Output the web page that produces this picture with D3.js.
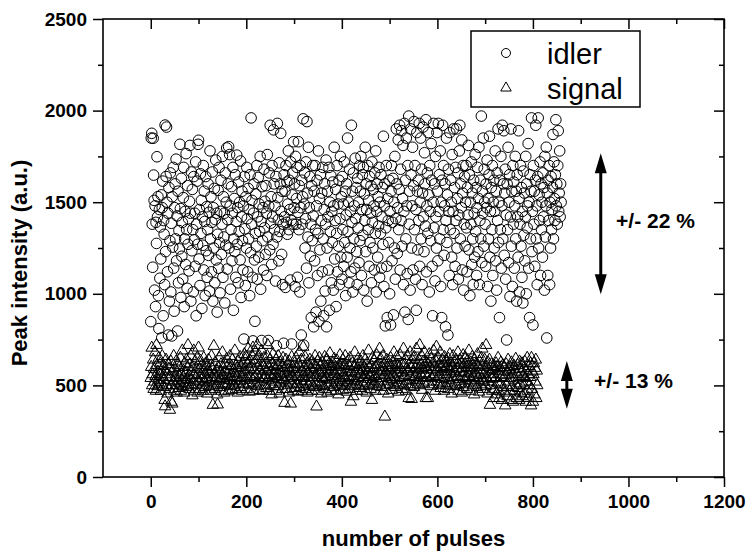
<!DOCTYPE html>
<html>
<head>
<meta charset="utf-8">
<script src="https://cdn.jsdelivr.net/npm/d3@7"></script>
<style>
  body { margin: 0; background: #fff; }
  svg text { font-family: Arial, "Liberation Sans", sans-serif; fill: #000; }
  .axis text { font-size: 19px; font-weight: bold; }
  .axis line { stroke: #000; stroke-width: 1.5; }
  .axis path { display: none; }
  .title { font-size: 22px; font-weight: bold; }
  .note { font-size: 21px; font-weight: bold; }
  .legend-text { font-size: 29px; }
</style>
</head>
<body>
<div id="chart"></div>
<script>
// tick labels
const xTicks = [0, 200, 400, 600, 800, 1000, 1200];
const xMinorTicks = [100, 300, 500, 700, 900, 1100];
const yTicks = [0, 500, 1000, 1500, 2000, 2500];
const yMinorTicks = [250, 750, 1250, 1750, 2250];

const seriesNames = ['idler', 'signal'];

// peak intensity of every pulse (pulse number = index)
const idler = [
  848, 1850, 1876, 1380, 1145, 1849, 1648, 1510, 1020, 1480, 930, 1390, 1275, 1748, 1420, 1530, 990, 810, 1460, 1085,
  1365, 1190, 1540, 760, 1470, 1615, 880, 1400, 1325, 1050, 1921, 1230, 1640, 1910, 1500, 1120, 1440, 775, 1580, 960,
  1290, 1660, 1010, 1385, 770, 1530, 1255, 1690, 1140, 905, 1470, 1600, 1300, 1735, 1180, 1425, 797, 1560, 1060, 1345,
  1245, 1816, 1465, 980, 1630, 1205, 1390, 1080, 1525, 1690, 930, 1300, 1450, 1160, 1765, 1350, 1030, 1590, 1270, 1410,
  1125, 1505, 1810, 1440, 960, 1665, 1235, 1570, 1350, 1010, 1640, 1295, 1440, 1150, 1720, 880, 1380, 1615, 1270, 1816,
  1838, 1190, 1460, 1045, 1655, 1330, 1510, 920, 1420, 1265, 1700, 1130, 1560, 1395, 990, 1640, 1235, 1475, 1090, 1350,
  1600, 1210, 1445, 1015, 1780, 1300, 1530, 1120, 1390, 1665, 960, 1470, 1250, 1575, 1060, 1405, 1730, 1185, 1440, 900,
  1325, 1565, 1140, 1690, 1280, 1005, 1450, 1620, 1215, 1380, 1750, 1090, 1530, 1310, 1440, 950, 1660, 1265, 1500, 1796,
  1135, 1405, 1600, 1803, 1250, 1760, 1480, 1025, 1350, 1585, 1180, 1440, 1690, 910, 1300, 1520, 1230, 1650, 1090, 1395,
  1757, 1270, 1470, 1060, 1610, 1340, 1500, 1185, 1725, 980, 1420, 1560, 1290, 1130, 1480, 753, 1640, 1355, 1045, 1530,
  1250, 1690, 1410, 1120, 1575, 1300, 1460, 990, 1650, 1225, 1960, 1380, 1510, 1090, 743, 1440, 1600, 1185, 850, 1330,
  1545, 1260, 1700, 1080, 1420, 1635, 1200, 1490, 1340, 1750, 1025, 1395, 745, 1585, 1290, 1470, 1130, 1680, 1360, 1505,
  1215, 1590, 1440, 1100, 1760, 1310, 745, 1480, 1660, 1240, 1920, 1385, 1530, 1160, 1700, 1420, 1270, 1895, 1600, 1350,
  1480, 1070, 1640, 716, 1310, 1930, 1525, 1405, 1180, 1715, 1340, 1600, 1876, 1450, 1215, 1560, 1050, 1380, 730, 1650,
  1420, 1560, 1035, 1700, 1390, 1610, 1325, 1490, 1780, 1350, 1620, 1460, 1075, 1720, 1400, 726, 1540, 1660, 1380, 1830,
  1470, 1600, 1040, 1750, 1380, 1520, 1690, 1090, 1445, 1830, 1350, 1590, 1010, 1700, 1470, 775, 1620, 1380, 1530, 1955,
  720, 1490, 1660, 1250, 1410, 1720, 1140, 1940, 1550, 1310, 1800, 1060, 1470, 1640, 1205, 1380, 870, 1590, 1290, 1700,
  1425, 820, 1560, 1180, 1700, 1350, 900, 1480, 1620, 1100, 1330, 1780, 850, 1520, 1240, 1650, 960, 1400, 1550, 1120,
  1690, 1300, 880, 1460, 1600, 1015, 1380, 1730, 820, 1250, 1560, 1420, 1130, 1690, 910, 1500, 1340, 1645, 1060, 1450,
  1280, 1610, 1020, 1480, 1800, 1190, 1400, 1570, 930, 1330, 1700, 1120, 1490, 1260, 1620, 1050, 1410, 1750, 1200, 1530,
  1080, 1640, 1350, 1490, 1150, 1720, 1280, 1560, 990, 1430, 1600, 1200, 1850, 1340, 1500, 1060, 1680, 1250, 1450, 1120,
  1920, 1390, 1560, 1010, 1660, 1300, 1480, 1140, 1740, 1410, 1580, 1230, 1050, 1630, 1360, 1500, 1170, 1700, 1290, 1560,
  1750, 1100, 1460, 1650, 1320, 1690, 1020, 1545, 1400, 1800, 1230, 1600, 1460, 960, 1700, 1350, 1510, 1150, 1640, 1280,
  1440, 1590, 1060, 1720, 1390, 1250, 1570, 1480, 1130, 1660, 1330, 1780, 1010, 1450, 1600, 1200, 1530, 1370, 1690, 1090,
  1500, 1330, 1650, 1140, 1420, 1580, 1270, 1860, 1040, 1480, 1600, 825, 1360, 1700, 1150, 870, 1520, 1400, 1280, 1620,
  1000, 1450, 830, 1560, 1700, 1180, 1390, 1630, 885, 1500, 1250, 1750, 1080, 1410, 1900, 1600, 1220, 1470, 1840, 1350,
  1570, 1920, 1130, 1680, 1400, 1890, 1260, 1520, 1810, 1050, 1450, 1930, 900, 1620, 1300, 1850, 1480, 1110, 1700, 860,
  1970, 1380, 1560, 1020, 1900, 1650, 1250, 1480, 1800, 1130, 1590, 1940, 1350, 1700, 1080, 1460, 910, 1880, 1560, 1240,
  1620, 1400, 1930, 1150, 1500, 1850, 1300, 1680, 1050, 1550, 1910, 1420, 1230, 1770, 1600, 1370, 1950, 1120, 1480, 1660,
  1330, 1880, 1540, 1010, 1700, 1450, 1290, 1820, 1620, 1150, 880, 1500, 1930, 1360, 1600, 1070, 1750, 1420, 1250, 1880,
  1560, 1180, 1930, 1450, 1650, 1300, 1780, 1040, 1500, 870, 1620, 1920, 1350, 1700, 1210, 1480, 1600, 820, 1400, 1850,
  1280, 1540, 775, 1680, 1450, 1100, 1880, 1350, 1620, 1500, 1200, 1760, 1050, 1450, 1900, 1330, 1580, 1150, 1690, 1400,
  1900, 1250, 1520, 1660, 1080, 1430, 1780, 1920, 1300, 1600, 1470, 1840, 1130, 1550, 1700, 1020, 1380, 1640, 1260, 1500,
  1700, 1360, 1120, 1580, 1430, 1810, 1240, 1650, 990, 1500, 1380, 1720, 1160, 1550, 1300, 1050, 1620, 1440, 1200, 1760,
  1340, 1580, 1100, 1470, 1690, 1230, 1520, 1800, 1050, 1400, 1620, 1300, 1970, 1170, 1560, 1440, 1850, 1260, 1680, 1500,
  1380, 1150, 1600, 1470, 1730, 1040, 1520, 1300, 1650, 1860, 1200, 1450, 960, 1580, 1350, 1700, 1100, 1500, 1620, 1250,
  1450, 1780, 1180, 1560, 1020, 1660, 1400, 1900, 1280, 1500, 870, 1620, 1350, 1750, 1140, 1480, 1920, 1300, 1600, 1890,
  1210, 1550, 1680, 1080, 1430, 748, 1600, 1350, 1800, 1170, 1500, 1650, 985, 1420, 1900, 1260, 1560, 1040, 1700, 1380,
  1610, 1140, 1480, 1750, 1300, 1560, 960, 1650, 1420, 1200, 1890, 1520, 1010, 1380, 1700, 1260, 1580, 1090, 1450, 950,
  1670, 1320, 1550, 1180, 1420, 1750, 1000, 1600, 1360, 1480, 1820, 1140, 1500, 870, 1650, 1300, 1560, 1960, 1230, 1450,
  830, 1700, 1380, 1560, 1150, 1620, 1920, 1300, 1480, 1050, 1640, 1960, 1250, 1540, 1400, 1720, 1100, 1600, 1350, 1500,
  1200, 1660, 1420, 1580, 1020, 1750, 1310, 1480, 1800, 759, 1550, 1100, 1620, 1400, 1700, 1050, 1500, 1250, 1640, 1350,
  1460, 1580, 1870, 1300, 1720, 1520, 1400, 1650, 1950, 1480, 1600, 1380, 1700, 1890, 1450, 1550, 1780, 1420, 1600, 1500
];

const signal = [
  540, 600, 705, 500, 560, 640, 480, 590, 520, 680, 550, 470, 720, 610, 495, 575, 530, 650, 505, 560,
  620, 470, 580, 515, 660, 545, 490, 605, 530, 420, 385, 575, 640, 500, 560, 455, 615, 530, 590, 480,
  366, 545, 630, 410, 500, 400, 580, 520, 660, 470, 595, 540, 500, 630, 460, 570, 525, 610, 485, 555,
  600, 510, 650, 470, 560, 530, 690, 495, 580, 545, 460, 620, 515, 570, 490, 640, 535, 600, 720, 505,
  555, 480, 615, 530, 660, 500, 575, 445, 600, 520, 690, 555, 470, 630, 540, 505, 590, 650, 460, 560,
  706, 525, 590, 480, 635, 555, 500, 610, 540, 470, 580, 650, 515, 560, 490, 620, 535, 600, 455, 575,
  530, 640, 495, 570, 520, 605, 470, 660, 545, 590, 393, 510, 715, 560, 480, 625, 540, 500, 580, 450,
  395, 600, 525, 650, 490, 570, 535, 615, 470, 555, 680, 505, 590, 540, 460, 620, 510, 575, 530, 645,
  500, 560, 610, 470, 585, 530, 660, 495, 550, 605, 475, 640, 520, 580, 545, 500, 690, 565, 480, 610,
  540, 595, 460, 630, 510, 570, 525, 655, 490, 600, 545, 470, 620, 560, 505, 585, 670, 530, 640, 657,
  575, 480, 615, 540, 700, 510, 590, 465, 635, 550, 600, 500, 660, 530, 706, 470, 585, 620, 545, 680,
  510, 640, 560, 720, 495, 600, 540, 660, 475, 580, 625, 520, 690, 555, 470, 610, 535, 650, 500, 590,
  545, 620, 485, 575, 660, 720, 530, 600, 470, 555, 640, 505, 580, 450, 615, 540, 670, 495, 560, 605,
  520, 585, 640, 470, 550, 610, 495, 660, 535, 580, 455, 625, 510, 570, 545, 600, 480, 650, 530, 565,
  404, 595, 520, 640, 480, 560, 615, 500, 585, 460, 630, 540, 575, 400, 510, 655, 550, 600, 470, 590,
  530, 620, 485, 570, 650, 505, 590, 545, 465, 615, 560, 680, 490, 600, 525, 640, 470, 575, 550, 710,
  505, 600, 540, 655, 480, 580, 525, 620, 460, 570, 610, 495, 560, 640, 515, 590, 545, 470, 630, 500,
  575, 615, 490, 545, 660, 510, 600, 384, 555, 630, 470, 585, 520, 650, 500, 565, 610, 455, 580, 540,
  625, 495, 570, 535, 655, 480, 600, 545, 510, 640, 460, 590, 560, 615, 500, 675, 530, 580, 470, 605,
  550, 620, 490, 575, 645, 515, 560, 600, 470, 540, 635, 505, 585, 450, 610, 530, 665, 495, 570, 615,
  520, 580, 640, 475, 555, 610, 500, 660, 540, 590, 465, 625, 515, 570, 545, 605, 480, 650, 530, 410,
  575, 495, 620, 550, 440, 600, 525, 680, 505, 565, 610, 470, 590, 540, 645, 500, 575, 615, 485, 560,
  630, 520, 580, 470, 660, 545, 600, 495, 555, 640, 510, 585, 460, 620, 535, 570, 690, 500, 595, 545,
  480, 610, 560, 420, 650, 525, 590, 505, 635, 550, 470, 600, 540, 665, 495, 580, 615, 520, 560, 700,
  510, 645, 575, 490, 600, 540, 660, 470, 585, 555, 329, 620, 500, 570, 640, 525, 595, 455, 610, 545,
  580, 505, 650, 535, 600, 475, 625, 560, 515, 680, 545, 590, 490, 615, 530, 655, 500, 570, 610, 465,
  600, 540, 665, 510, 585, 620, 480, 570, 545, 700, 500, 610, 555, 640, 470, 590, 525, 660, 505, 580,
  430, 615, 550, 680, 495, 600, 425, 640, 530, 575, 610, 490, 655, 545, 590, 520, 700, 560, 615, 505,
  585, 640, 530, 720, 500, 610, 555, 660, 475, 595, 540, 630, 510, 680, 565, 600, 430, 625, 545, 590,
  430, 615, 520, 670, 560, 600, 495, 645, 540, 585, 620, 505, 690, 550, 600, 470, 635, 575, 711, 520,
  590, 545, 650, 500, 615, 560, 680, 485, 600, 535, 640, 510, 575, 620, 470, 655, 540, 595, 500, 630,
  560, 605, 480, 645, 530, 590, 670, 510, 575, 620, 455, 600, 545, 660, 495, 580, 625, 520, 565, 640,
  500, 590, 550, 680, 470, 610, 535, 640, 505, 575, 620, 460, 595, 545, 665, 490, 570, 615, 525, 650,
  540, 600, 480, 635, 565, 510, 690, 550, 595, 470, 625, 530, 585, 655, 500, 610, 545, 450, 640, 575,
  520, 615, 560, 490, 670, 540, 600, 465, 630, 555, 585, 505, 650, 530, 700, 480, 610, 560, 520, 640,
  570, 495, 720, 540, 600, 455, 625, 520, 580, 640, 393, 560, 500, 615, 535, 470, 590, 545, 430, 605,
  480, 580, 540, 620, 450, 600, 515, 650, 470, 560, 430, 595, 505, 625, 545, 420, 575, 610, 490, 540,
  600, 460, 390, 555, 615, 500, 575, 440, 640, 520, 585, 470, 600, 540, 420, 625, 490, 560, 410, 590,
  530, 605, 470, 575, 645, 500, 430, 560, 610, 485, 545, 420, 630, 510, 590, 460, 570, 620, 440, 550,
  500, 595, 455, 630, 540, 410, 580, 520, 650, 470, 560, 430, 605, 500, 545, 620, 390, 650, 480, 575,
  410, 560, 620, 450, 595, 520, 640, 430, 580, 500
];

// spread annotations: pulse position of the arrow, intensity range, label
const spreadNotes = [
  { pulse: 942, low: 997, high: 1767, label: '+/- 22 %', labelPulse: 974, labelValue: 1359 },
  { pulse: 871, low: 373, high: 633, label: '+/- 13 %', labelPulse: 928, labelValue: 487 }
];

class ScatterChart {
    constructor(_config) {
        this.config = {
            parentElement: _config.parentElement,
            containerWidth: 748,
            containerHeight: 551,
            margin: { top: 19, right: 24, bottom: 74, left: 103 }
        }
        this.initVis();
    }

    initVis() {
        let vis = this;

        vis.width = vis.config.containerWidth - vis.config.margin.left - vis.config.margin.right;
        vis.height = vis.config.containerHeight - vis.config.margin.top - vis.config.margin.bottom;

        vis.xScale = d3.scaleLinear()
            .domain([-100, 1200])
            .range([0, vis.width]);

        vis.yScale = d3.scaleLinear()
            .domain([0, 2500])
            .range([vis.height, 0]);

        vis.svg = d3.select(vis.config.parentElement).append('svg')
            .attr('width', vis.config.containerWidth)
            .attr('height', vis.config.containerHeight);

        vis.chartArea = vis.svg.append('g')
            .attr('transform', `translate(${vis.config.margin.left},${vis.config.margin.top})`);

        vis.chart = vis.chartArea.append('g');

        vis.renderAxes();
        vis.renderVis();
        vis.renderLegend();
    }

    renderAxes() {
        let vis = this;
        const fmt = d3.format('d');

        // left + bottom: ticks outward with labels
        vis.chartArea.append('g')
            .attr('class', 'axis')
            .attr('transform', `translate(0,${vis.height})`)
            .call(d3.axisBottom(vis.xScale).tickValues(xTicks).tickFormat(fmt).tickSize(10).tickPadding(8));
        vis.chartArea.append('g')
            .attr('class', 'axis')
            .attr('transform', `translate(0,${vis.height})`)
            .call(d3.axisBottom(vis.xScale).tickValues(xMinorTicks).tickSize(5).tickFormat(''));

        vis.chartArea.append('g')
            .attr('class', 'axis')
            .call(d3.axisLeft(vis.yScale).tickValues(yTicks).tickFormat(fmt).tickSize(10).tickPadding(6));
        vis.chartArea.append('g')
            .attr('class', 'axis')
            .call(d3.axisLeft(vis.yScale).tickValues(yMinorTicks).tickSize(5).tickFormat(''));

        // top + right: mirrored ticks pointing in
        vis.chartArea.append('g')
            .attr('class', 'axis')
            .call(d3.axisTop(vis.xScale).tickValues(xTicks).tickSize(-10).tickFormat(''));
        vis.chartArea.append('g')
            .attr('class', 'axis')
            .call(d3.axisTop(vis.xScale).tickValues(xMinorTicks).tickSize(-5).tickFormat(''));
        vis.chartArea.append('g')
            .attr('class', 'axis')
            .attr('transform', `translate(${vis.width},0)`)
            .call(d3.axisRight(vis.yScale).tickValues(yTicks).tickSize(-10).tickFormat(''));
        vis.chartArea.append('g')
            .attr('class', 'axis')
            .attr('transform', `translate(${vis.width},0)`)
            .call(d3.axisRight(vis.yScale).tickValues(yMinorTicks).tickSize(-5).tickFormat(''));

        vis.chartArea.selectAll('.axis text')
            .attr('font-weight', 'bold')
            .attr('fill', '#000');

        // frame
        vis.chartArea.append('rect')
            .attr('width', vis.width)
            .attr('height', vis.height)
            .attr('fill', 'none')
            .attr('stroke', '#000')
            .attr('stroke-width', 1.6);

        // axis titles
        vis.chartArea.append('text')
            .attr('class', 'title')
            .attr('x', vis.width / 2)
            .attr('y', vis.height + 69)
            .attr('text-anchor', 'middle')
            .text('number of pulses');

        vis.chartArea.append('text')
            .attr('class', 'title')
            .attr('transform', `translate(-76,${vis.height / 2 + 15}) rotate(-90)`)
            .attr('text-anchor', 'middle')
            .text('Peak intensity (a.u.)');
    }

    renderVis() {
        let vis = this;

        vis.triangle = d3.symbol().type(d3.symbolTriangle).size(58);

        vis.chart.selectAll('.idler')
            .data(idler)
            .join('circle')
            .attr('class', 'idler')
            .attr('cx', (d, i) => vis.xScale(i))
            .attr('cy', d => vis.yScale(d))
            .attr('r', 5.3)
            .attr('fill', 'none')
            .attr('stroke', '#000')
            .attr('stroke-width', 1);

        vis.chart.selectAll('.signal')
            .data(signal)
            .join('path')
            .attr('class', 'signal')
            .attr('d', vis.triangle)
            .attr('transform', (d, i) => `translate(${vis.xScale(i)},${vis.yScale(d)})`)
            .attr('fill', 'none')
            .attr('stroke', '#000')
            .attr('stroke-width', 1);

        // double arrows marking the spread
        const headLen = 20, headHalf = 6;
        spreadNotes.forEach(n => {
            const x = vis.xScale(n.pulse);
            const yTop = vis.yScale(n.high);
            const yBot = vis.yScale(n.low);
            vis.chart.append('line')
                .attr('x1', x).attr('x2', x)
                .attr('y1', yTop + headLen - 2).attr('y2', yBot - headLen + 2)
                .attr('stroke', '#000')
                .attr('stroke-width', 3);
            vis.chart.append('path')
                .attr('d', `M${x},${yTop}L${x - headHalf},${yTop + headLen}L${x + headHalf},${yTop + headLen}Z`
                    + `M${x},${yBot}L${x - headHalf},${yBot - headLen}L${x + headHalf},${yBot - headLen}Z`)
                .attr('fill', '#000');
            vis.chart.append('text')
                .attr('class', 'note')
                .attr('x', vis.xScale(n.labelPulse))
                .attr('y', vis.yScale(n.labelValue))
                .text(n.label);
        });
    }

    renderLegend() {
        let vis = this;

        let legend = vis.chartArea.append('g')
            .attr('transform', 'translate(368,12)');

        legend.append('rect')
            .attr('width', 169)
            .attr('height', 76)
            .attr('fill', '#fff')
            .attr('stroke', '#000')
            .attr('stroke-width', 1.5);

        let items = legend.selectAll('.legend-item')
            .data(seriesNames)
            .join('g')
            .attr('class', 'legend-item')
            .attr('transform', (d, i) => `translate(0,${22 + i * 35})`);

        items.filter(d => d === 'idler').append('circle')
            .attr('cx', 35)
            .attr('r', 4.5)
            .attr('fill', 'none')
            .attr('stroke', '#000');

        items.filter(d => d === 'signal').append('path')
            .attr('d', d3.symbol().type(d3.symbolTriangle).size(48))
            .attr('transform', 'translate(35,0)')
            .attr('fill', 'none')
            .attr('stroke', '#000');

        items.append('text')
            .attr('class', 'legend-text')
            .attr('x', 76)
            .attr('y', 10.5)
            .text(d => d);
    }
}

new ScatterChart({ parentElement: '#chart' });
</script>
</body>
</html>
